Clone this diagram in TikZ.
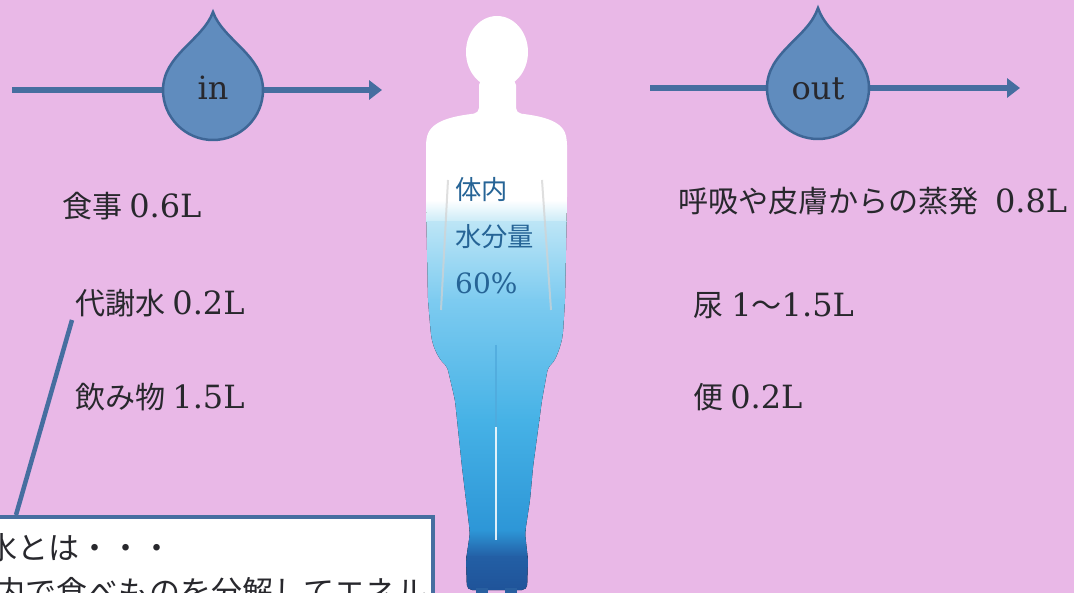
\documentclass[tikz,border=0pt]{standalone}
\usepackage{fontspec}
\setmainfont{DejaVu Serif}
\newfontfamily\cjk[Scale=0.94]{Noto Sans CJK JP}
\usetikzlibrary{arrows.meta}

\definecolor{bgpink}{RGB}{233,184,231}
\definecolor{dropfill}{RGB}{96,140,190}
\definecolor{dropedge}{RGB}{62,102,150}
\definecolor{flowblue}{RGB}{70,110,160}
\definecolor{labelink}{RGB}{40,40,45}
\definecolor{bodyink}{RGB}{38,100,150}
\definecolor{waterA}{RGB}{200,234,247}
\definecolor{waterB}{RGB}{188,229,246}
\definecolor{waterC}{RGB}{125,203,240}
\definecolor{waterD}{RGB}{70,178,230}
\definecolor{waterE}{RGB}{45,150,215}
\definecolor{waterF}{RGB}{35,95,165}
\definecolor{waterG}{RGB}{30,80,150}
\definecolor{crease}{RGB}{80,170,220}
\definecolor{shoe}{RGB}{40,95,160}

\newcommand\labelsize{\fontsize{32}{38}\selectfont}
\newcommand\dropsize{\fontsize{32}{38}\selectfont}
\newcommand\bodysize{\fontsize{28}{33}\selectfont}
\newcommand\notesize{\fontsize{33}{38}\selectfont}

\begin{document}
\begin{tikzpicture}[x=1pt,y=-1pt,
  flow/.style={draw=flowblue,line width=6pt,-{Triangle[length=13pt,width=19pt]}},
  drop/.style={fill=dropfill,draw=dropedge,line width=2.5pt},
  droplabel/.style={inner sep=0pt,text=labelink,font=\dropsize,anchor=base},
  amount/.style={inner sep=0pt,anchor=west,text=labelink,font=\labelsize},
  bodytext/.style={inner sep=0pt,anchor=west,text=bodyink,font=\bodysize},
  notebox/.style={draw=flowblue,line width=4pt,fill=white},
  notetext/.style={inner sep=0pt,anchor=west,text=labelink,font=\notesize\cjk},
  callout/.style={draw=flowblue,line width=4.5pt}]

% background
\fill[bgpink] (0,0) rectangle (1074,593);
\useasboundingbox (0,0) rectangle (1074,593);

% intake arrow with drop
\coordinate (inStart) at (12,90);
\coordinate (inEnd) at (382,90);
\draw[flow] (inStart) -- (inEnd);
\draw[drop] (213,12) .. controls (203,40) and (163,55) .. (163,90)
  arc[start angle=180,end angle=0,radius=50]
  .. controls (263,55) and (223,40) .. (213,12) -- cycle;
\node[droplabel] (inLabel) at (213,100) {in};

% output arrow with drop
\coordinate (outStart) at (650,88);
\coordinate (outEnd) at (1020,88);
\draw[flow] (outStart) -- (outEnd);
\draw[drop] (818,8) .. controls (808,38) and (767,52) .. (767,88)
  arc[start angle=180,end angle=0,radius=51]
  .. controls (869,52) and (828,38) .. (818,8) -- cycle;
\node[droplabel] (outLabel) at (818,100) {out};

% intake amounts
\node[amount] (food)  at (62,206) {{\cjk 食事}\hspace{7pt}0.6L};
\node[amount] (metab) at (75,303) {{\cjk 代謝水}\hspace{7pt}0.2L};
\node[amount] (drink) at (75,397) {{\cjk 飲み物}\hspace{7pt}1.5L};

% output amounts
\node[amount] (sweat) at (678,201) {{\cjk 呼吸や皮膚からの蒸発}\hspace{16pt}0.8L};
\node[amount] (urine) at (693,306) {{\cjk 尿}\hspace{8pt}1{\cjk ～}1.5L};
\node[amount] (stool) at (693,397) {{\cjk 便}\hspace{7pt}0.2L};

% human figure filled with water up to the chest
\begin{scope}
  \clip[rounded corners=5pt]
    (479,80) -- (479,113) .. controls (455,116) and (432,120) .. (426,140)
    -- (426,200) -- (428,300) -- (431,335) .. controls (434,350) and (440,360) .. (447,366)
    -- (455,400) -- (462,467) -- (466,500) -- (470,533) -- (466,560) -- (467,590)
    -- (527,590) -- (528,560) -- (525,533) -- (530,500) -- (533,467)
    -- (542,400) -- (548,367) .. controls (556,360) and (561,345) .. (563,333)
    -- (565,300) -- (567,200) -- (567,140) .. controls (562,120) and (540,116) .. (516,113)
    -- (516,80) -- cycle;
  \fill[white] (420,0) rectangle (580,201);
  \fill[top color=white,bottom color=waterA] (420,200) rectangle (580,223);
  \fill[top color=waterB,bottom color=waterC] (420,222) rectangle (580,301);
  \fill[top color=waterC,bottom color=waterD] (420,300) rectangle (580,421);
  \fill[top color=waterD,bottom color=waterE] (420,420) rectangle (580,531);
  \fill[top color=waterE,bottom color=waterF] (420,530) rectangle (580,557);
  \fill[top color=waterF,bottom color=waterG] (420,556) rectangle (580,600);
  % gaps between arms and torso, and between the legs
  \draw[white!65!gray,line width=2pt,opacity=0.7] (448,180) -- (441,310);
  \draw[white!65!gray,line width=2pt,opacity=0.7] (542,180) -- (551,310);
  \draw[crease,line width=1.5pt,opacity=0.8] (496,345) -- (496,427);
  \draw[white,line width=2.5pt,opacity=0.85] (496,427) -- (496,540);
\end{scope}
% feet
\fill[shoe] (476,588) rectangle (488,593);
\fill[shoe] (505,588) rectangle (517,593);
% head
\fill[white] (497,52) ellipse[x radius=31,y radius=36];

% water content text on the body
\node[bodytext] (bodyA) at (455,190) {\cjk 体内};
\node[bodytext] (bodyB) at (455,237) {\cjk 水分量};
\node[bodytext] (bodyC) at (455,283) {60\%};

% note on metabolic water
\node[notebox,minimum width=460pt,minimum height=110pt,anchor=north east,inner sep=0pt] (note) at (435,515) {};
\coordinate (noteJoin) at (16,515);
\draw[callout] (72,320) -- (noteJoin);
\node[notetext] (noteA) at (-76,548) {代謝水とは・・・};
\node[notetext] (noteB) at (-37,592) {体内で食べものを分解してエネル};
\end{tikzpicture}
\end{document}
